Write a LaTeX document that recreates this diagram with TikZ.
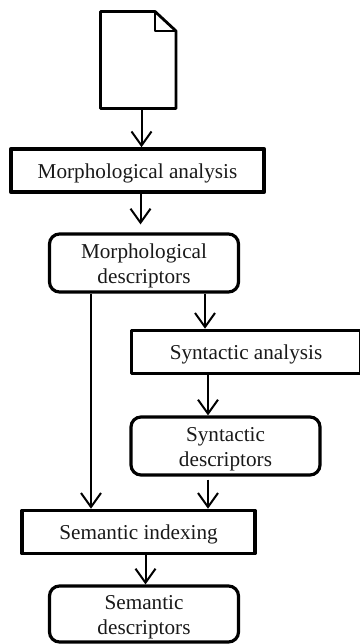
\documentclass[tikz,border=0pt]{standalone}
\usepackage{fontspec}
\setmainfont{Liberation Serif}
\usetikzlibrary{arrows.meta}
\newcommand\lowerlabel{\rule{0pt}{20pt}}
\tikzset{
  x=1pt,y=-1pt,
  lab/.style={font=\fontsize{21.2}{25}\selectfont,align=center,text=black!90,inner sep=0pt,outer sep=0pt},
  procbox/.style={lab,draw=black,line width=3.6pt,line join=round,minimum height=43pt,outer sep=1.8pt},
  descbox/.style={lab,draw=black,line width=3.2pt,rounded corners=10pt,minimum width=189pt,minimum height=58pt,outer sep=1.6pt},
  arr/.style={draw=black,line width=2pt,-{Straight Barb[length=14pt,width=20pt,line width=2pt]}},
  docline/.style={draw=black,line width=2.8pt,line join=round}
}
\begin{document}
\begin{tikzpicture}
\useasboundingbox (0,0) rectangle (359,644);
% document icon
\node[minimum width=76pt,minimum height=98pt,inner sep=0pt,outer sep=0pt] (doc) at (138,60) {};
\draw[docline] (100.5,11.5) -- (155,11.5) -- (176,31) -- (176,108.5) -- (100.5,108.5) -- cycle;
\draw[docline] (155,11.5) -- (155,31) -- (176,31);
% boxes
\node[procbox,minimum width=253.5pt] (ma) at (137.5,170.5) {\lowerlabel Morphological analysis};
\node[descbox] (md) at (144,263) {\lowerlabel Morphological\\descriptors};
\node[procbox,minimum width=229pt] (sa) at (246,352) {\lowerlabel Syntactic analysis};
\node[descbox] (sd) at (225.5,446) {\lowerlabel Syntactic\\descriptors};
\node[procbox,minimum width=233pt] (si) at (138.5,532) {\lowerlabel Semantic indexing};
\node[descbox,minimum height=56pt] (ds) at (144,614) {\lowerlabel Semantic\\descriptors};
% connectors
\draw[arr] ([xshift=3.5pt]doc.south) -- ([xshift=4pt]ma.north);
\draw[arr] ([xshift=3pt]ma.south) -- ([xshift=-3.5pt,yshift=8pt]md.north);
\draw[arr] ([xshift=61pt]md.south) -- ([xshift=-41pt]sa.north);
\draw[arr] ([xshift=-38pt]sa.south) -- ([xshift=-17.5pt]sd.north);
\draw[arr] ([xshift=-17.5pt,yshift=-3pt]sd.south) -- ([xshift=69.5pt]si.north);
\draw[arr] ([xshift=-53pt]md.south) -- ([xshift=-47.5pt]si.north);
\draw[arr] ([xshift=7pt]si.south) -- ([xshift=1.5pt]ds.north);
\end{tikzpicture}
\end{document}
